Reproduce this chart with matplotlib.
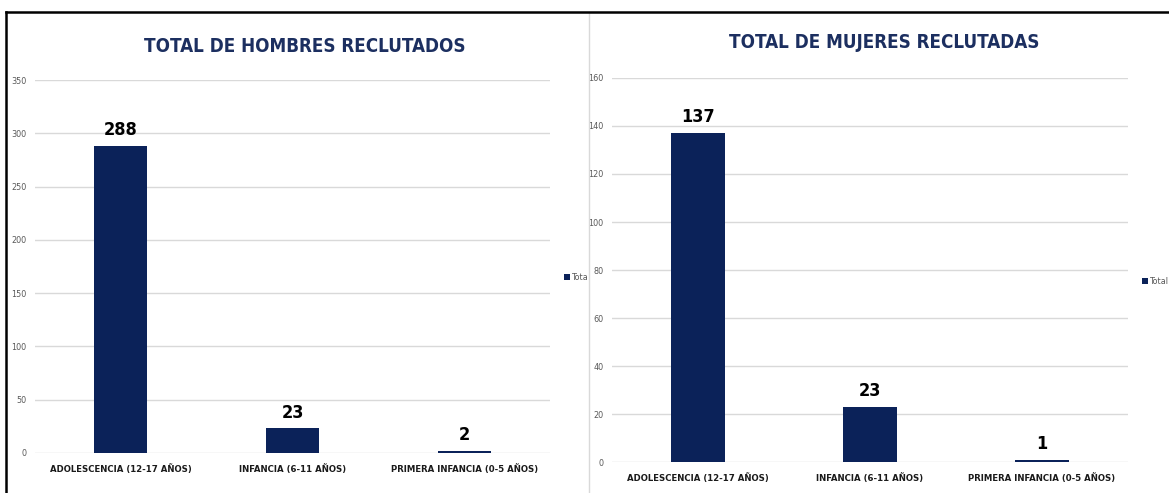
import matplotlib
matplotlib.use("Agg")
import matplotlib.pyplot as plt
from matplotlib.lines import Line2D
from matplotlib.patches import Rectangle

categories = ["ADOLESCENCIA (12-17 AÑOS)", "INFANCIA (6-11 AÑOS)", "PRIMERA INFANCIA (0-5 AÑOS)"]
hombres = [288, 23, 2]
mujeres = [137, 23, 1]
series_label = "Total"
titles = ["TOTAL DE HOMBRES RECLUTADOS", "TOTAL DE MUJERES RECLUTADAS"]
y_max = [350, 160]
y_step = [50, 20]

BAR = "#0b2259"
TITLE = "#1c2f60"
GRID = "#d9d9d9"

plt.rcParams["font.family"] = ["DejaVu Sans"]
plt.rcParams["font.stretch"] = "condensed"

W, H = 1169, 493
fig = plt.figure(figsize=(W / 100, H / 100), dpi=100)
fig.patch.set_facecolor("white")

# axes boxes in pixels: left, right, y of zero, y of top
boxes = [(35, 550, 453, 80), (612, 1128, 462, 78)]
title_pos = [(305, 47), (884, 43)]


def draw(ax, values, ymax, step):
    x = range(len(categories))
    ax.bar(x, values, width=0.31, color=BAR, label=series_label, zorder=3)
    ax.set_xlim(-0.5, len(categories) - 0.5)
    ax.set_ylim(0, ymax)
    ax.set_yticks(range(0, ymax + 1, step))
    ax.grid(axis="y", color=GRID, lw=1, zorder=0)
    for s in ax.spines.values():
        s.set_visible(False)
    ax.tick_params(axis="y", length=0, pad=6, labelsize=6.5, labelcolor="#595959")
    ax.tick_params(axis="x", length=0, pad=8)
    ax.set_xticks(list(x))
    ax.set_xticklabels(categories, fontsize=6.8, fontweight="bold", color="#1a1a1a")
    for xi, v in zip(x, values):
        ax.annotate(str(v), (xi, v), xytext=(0, 5), textcoords="offset points",
                    ha="center", va="bottom", fontsize=13, fontweight="bold", color="black")
    leg = ax.legend(loc="center left", bbox_to_anchor=(1.012, 0.47), frameon=False,
                    fontsize=6.5, handlelength=0.6, handleheight=0.6, handletextpad=0.3,
                    labelcolor="#595959")
    return leg


legs = []
for i, (vals, (l, r, y0, y1)) in enumerate(zip([hombres, mujeres], boxes)):
    ax = fig.add_axes([l / W, (H - y0) / H, (r - l) / W, (y0 - y1) / H])
    legs.append(draw(ax, vals, y_max[i], y_step[i]))
    tx, ty = title_pos[i]
    fig.text(tx / W, 1 - ty / H, titles[i], ha="center", va="center",
             fontsize=13.5, fontweight="bold", color=TITLE)

# the left chart's legend is cut by the edge of its chart area
clip = Rectangle((0, 0), 588 / W, 1, transform=fig.transFigure, visible=False)
fig.add_artist(clip)
for a in legs[0].findobj():
    a.set_clip_path(clip)

# frame of the screenshot
top = 1 - 11.5 / H
fig.add_artist(Line2D([589 / W, 589 / W], [0, top], transform=fig.transFigure, color=GRID, lw=1))
fig.add_artist(Line2D([6 / W, 1], [top, top], transform=fig.transFigure, color="black", lw=1.8))
fig.add_artist(Line2D([6 / W, 6 / W], [0, top], transform=fig.transFigure, color="black", lw=1.8))

fig.savefig("out.png", dpi=100)
